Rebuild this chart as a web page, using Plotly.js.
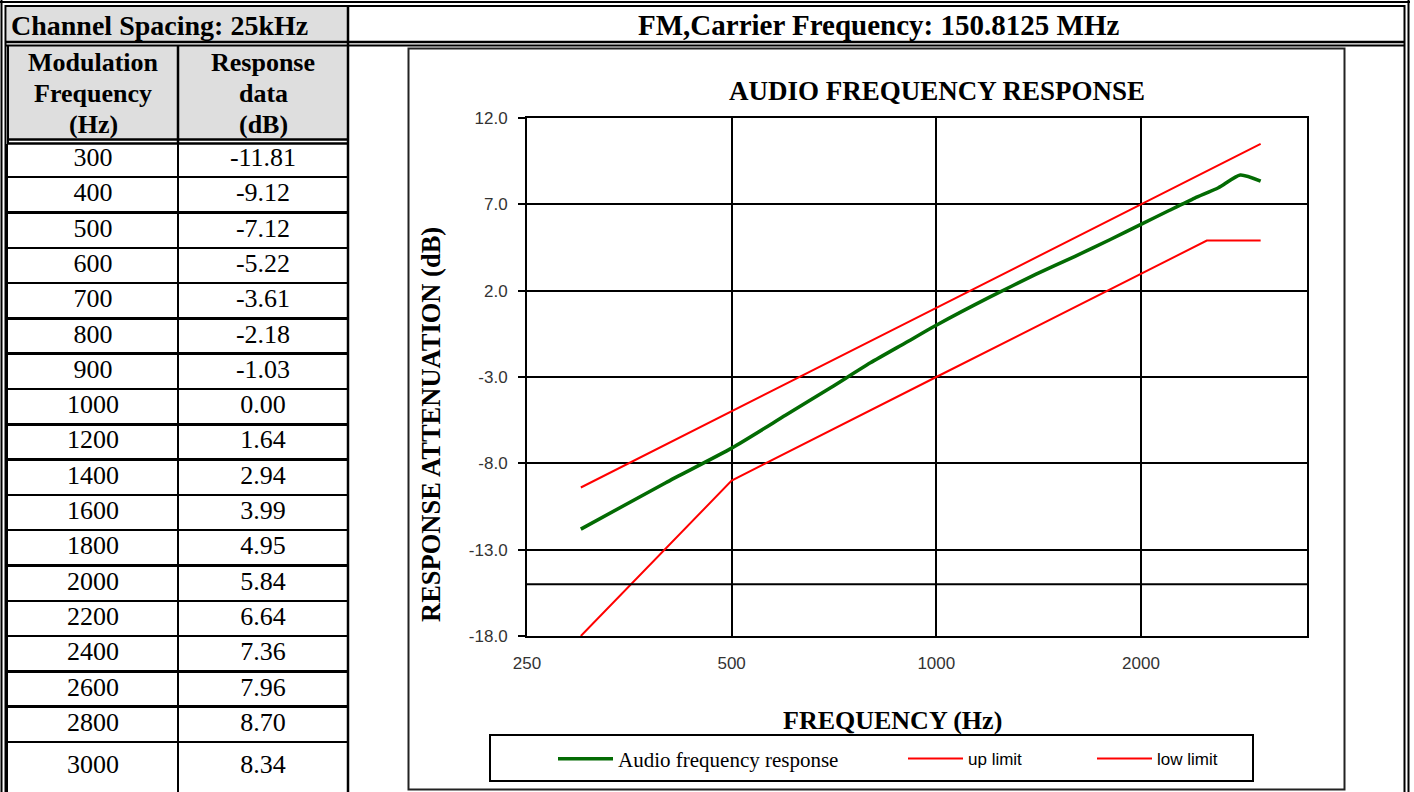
<!DOCTYPE html>
<html>
<head>
<meta charset="utf-8">
<script src="https://cdn.plot.ly/plotly-3.0.1.min.js"></script>
<style>
html,body{margin:0;padding:0;background:#fff;overflow:hidden}
#chart{width:1414px;height:792px}
</style>
</head>
<body>
<div id="chart"></div>
<script>
// ---------------- data ----------------
const freqs = [300, 400, 500, 600, 700, 800, 900, 1000, 1200, 1400, 1600, 1800, 2000, 2200, 2400, 2600, 2800, 3000];
const response = [-11.81, -9.12, -7.12, -5.22, -3.61, -2.18, -1.03, 0.00, 1.64, 2.94, 3.99, 4.95, 5.84, 6.64, 7.36, 7.96, 8.70, 8.34];
const upFreqs = [300, 500, 1000, 2000, 3000];
const upLimit = [-9.4, -5.0, 1.0, 7.0, 10.5];
const lowFreqs = [300, 500, 1000, 2000, 2500, 3000];
const lowLimit = [-18.0, -9.0, -3.0, 3.0, 4.9, 4.9];
const yTicks = [12, 7, 2, -3, -8, -13, -18];
const xTicks = [250, 500, 1000, 2000];
const tableHeaders = [['Modulation', 'Frequency', '(Hz)'], ['Response', 'data', '(dB)']];
const tableTitle = 'Channel Spacing: 25kHz';
const chartHeader = 'FM,Carrier Frequency: 150.8125 MHz';
const chartTitle = 'AUDIO FREQUENCY RESPONSE';
const xTitle = 'FREQUENCY (Hz)';
const yTitle = 'RESPONSE ATTENUATION (dB)';
const seriesNames = ['Audio frequency response', 'up limit', 'low limit'];

// ---------------- layout helpers ----------------
const W = 1414, H = 792;
const px = v => v / W;
const py = v => 1 - v / H;
const SERIF = 'Liberation Serif, Times New Roman, serif';
const SANS = 'Liberation Sans, Arial, sans-serif';

// table geometry (rows on a hidden axis)
const rowPitch = 35.3, firstRowCenter = 159.5, tableTop = 144;
const rTop = (tableTop - firstRowCenter) / rowPitch;
const rBot = (H - firstRowCenter) / rowPitch;
const nRows = freqs.length;
const rowY = freqs.map((f, i) => i < nRows - 1 ? i : ((nRows - 1.5) + rBot) / 2);
const rowLines = freqs.slice(0, nRows - 1).map((f, i) => i + 0.5);

const traces = [
  {
    type: 'scatter', mode: 'text', x: freqs.map(() => 0.5), y: rowY,
    text: freqs.map(String), textposition: 'middle center',
    textfont: {family: SERIF, size: 26, color: '#000'},
    xaxis: 'x2', yaxis: 'y2', showlegend: false, hoverinfo: 'skip'
  },
  {
    type: 'scatter', mode: 'text', x: response.map(() => 1.5), y: rowY,
    text: response.map(v => v.toFixed(2)), textposition: 'middle center',
    textfont: {family: SERIF, size: 26, color: '#000'},
    xaxis: 'x2', yaxis: 'y2', showlegend: false, hoverinfo: 'skip'
  },
  {
    type: 'scatter', mode: 'lines', name: seriesNames[0], x: freqs, y: response,
    line: {color: '#036b03', width: 3.5, shape: 'spline', smoothing: 0.6},
    xaxis: 'x', yaxis: 'y', legend: 'legend'
  },
  {
    type: 'scatter', mode: 'lines', name: seriesNames[1], x: upFreqs, y: upLimit,
    line: {color: '#ff0000', width: 2},
    xaxis: 'x', yaxis: 'y', legend: 'legend2'
  },
  {
    type: 'scatter', mode: 'lines', name: seriesNames[2], x: lowFreqs, y: lowLimit,
    line: {color: '#ff0000', width: 2},
    xaxis: 'x', yaxis: 'y', legend: 'legend3'
  }
];

const L = (x0, y0, x1, y1, w, c) => ({
  type: 'line', xref: 'paper', yref: 'paper',
  x0: px(x0), y0: py(y0), x1: px(x1), y1: py(y1),
  line: {color: c || '#000', width: w}
});

const shapes = [
  {type: 'rect', xref: 'paper', yref: 'paper', x0: px(7), x1: px(347), y0: py(7), y1: py(41), fillcolor: '#dedede', line: {width: 0}, layer: 'below'},
  {type: 'rect', xref: 'paper', yref: 'paper', x0: px(7), x1: px(347), y0: py(46), y1: py(139), fillcolor: '#dedede', line: {width: 0}, layer: 'below'},
  // outer double frame
  L(1.5, 0, 1.5, H, 2), L(5.5, 5, 5.5, H, 2),
  L(0, 2, 1410, 2, 2), L(5, 6, 1405, 6, 2),
  L(1404.5, 5, 1404.5, H, 2), L(1408.5, 0, 1408.5, H, 2),
  // header separators
  L(5, 42, 1405, 42, 2.5), L(5, 45.5, 1405, 45.5, 2),
  L(348, 6, 348, H, 2.5),
  L(8, 139.5, 348, 139.5, 2.5), L(8, 143.5, 348, 143.5, 2.5),
  L(178, 45.5, 178, 144, 2.5), L(8, 45.5, 8, 144, 2),
  // chart area box
  {type: 'rect', xref: 'paper', yref: 'paper', x0: px(408.5), x1: px(1344.5), y0: py(48.5), y1: py(789.5), line: {color: '#222', width: 2}, layer: 'below'},
  // legend box
  {type: 'rect', xref: 'paper', yref: 'paper', x0: px(490), x1: px(1253), y0: py(735), y1: py(781), line: {color: '#000', width: 2}},
  // extra gridline
  {type: 'line', xref: 'x domain', yref: 'y', x0: 0, x1: 1, y0: -15, y1: -15, line: {color: '#000', width: 2}}
];

const headerAnnotations = [];
tableHeaders.forEach((lines, c) => {
  lines.forEach((t, k) => {
    headerAnnotations.push({
      text: '<b>' + t + '</b>', xref: 'x2', yref: 'paper', x: c + 0.5, y: py(62 + 31 * k),
      xanchor: 'center', yanchor: 'middle', showarrow: false,
      font: {family: SERIF, size: 26, color: '#000'}
    });
  });
});

const annotations = [
  {text: '<b>' + tableTitle + '</b>', xref: 'paper', yref: 'paper', x: px(9), y: py(25), xanchor: 'left', yanchor: 'middle', showarrow: false, font: {family: SERIF, size: 28, color: '#000'}},
  ...headerAnnotations,
  {text: '<b>' + chartHeader + '</b>', xref: 'paper', yref: 'paper', x: px(878), y: py(25), xanchor: 'center', yanchor: 'middle', showarrow: false, font: {family: SERIF, size: 29, color: '#000'}},
  {text: '<b>' + yTitle + '</b>', xref: 'paper', yref: 'paper', x: px(431), y: py(424), xanchor: 'center', yanchor: 'middle', textangle: -90, showarrow: false, font: {family: SERIF, size: 26.5, color: '#000'}},
  {text: '<b>' + xTitle + '</b>', xref: 'paper', yref: 'paper', x: px(892), y: py(720), xanchor: 'center', yanchor: 'middle', showarrow: false, font: {family: SERIF, size: 26, color: '#000'}}
];

const legendBase = {orientation: 'h', xanchor: 'left', yanchor: 'middle', y: py(759), bgcolor: 'rgba(0,0,0,0)', borderwidth: 0, itemwidth: 55, itemclick: false, itemdoubleclick: false};

const layout = {
  width: W, height: H,
  margin: {l: 0, r: 0, t: 0, b: 0},
  paper_bgcolor: '#fff', plot_bgcolor: '#fff',
  title: {text: '<b>' + chartTitle + '</b>', xref: 'paper', yref: 'paper', x: px(937), y: py(91), xanchor: 'center', yanchor: 'middle', font: {family: SERIF, size: 27, color: '#000'}},
  xaxis: {
    type: 'log', domain: [px(527), px(1307)], anchor: 'y',
    range: [Math.log10(250), Math.log10(3510)],
    tickvals: xTicks, ticktext: xTicks.map(String),
    showgrid: true, gridcolor: '#000', gridwidth: 2,
    showline: true, linecolor: '#000', linewidth: 2, mirror: true,
    ticks: '', ticklabelstandoff: 11,
    tickfont: {family: SANS, size: 17, color: '#333'}, zeroline: false
  },
  yaxis: {
    domain: [py(636), py(118)], anchor: 'x',
    range: [-18, 12],
    tickvals: yTicks, ticktext: yTicks.map(v => v.toFixed(1)),
    showgrid: true, gridcolor: '#000', gridwidth: 2,
    showline: true, linecolor: '#000', linewidth: 2, mirror: true,
    ticks: 'outside', ticklen: 7, tickwidth: 2, tickcolor: '#000', ticklabelstandoff: 7,
    tickfont: {family: SANS, size: 17, color: '#333'}, zeroline: false
  },
  xaxis2: {
    domain: [px(8), px(348)], anchor: 'y2', range: [0, 2],
    tickvals: [1], showticklabels: false, ticks: '',
    showgrid: true, gridcolor: '#000', gridwidth: 2.5, zeroline: false, showline: false
  },
  yaxis2: {
    domain: [py(H), py(tableTop)], anchor: 'x2', range: [rBot, rTop],
    tickvals: rowLines, showticklabels: false, ticks: '',
    showgrid: true, gridcolor: '#000', gridwidth: 2.5, zeroline: false,
    showline: true, linecolor: '#000', linewidth: 2.5, mirror: false
  },
  legend: Object.assign({}, legendBase, {x: px(553), font: {family: SERIF, size: 21, color: '#000'}}),
  legend2: Object.assign({}, legendBase, {x: px(903), font: {family: SANS, size: 17, color: '#000'}}),
  legend3: Object.assign({}, legendBase, {x: px(1092), font: {family: SANS, size: 17, color: '#000'}}),
  shapes: shapes,
  annotations: annotations,
  showlegend: true
};

Plotly.newPlot('chart', traces, layout, {displayModeBar: false, staticPlot: true});
</script>
</body>
</html>
